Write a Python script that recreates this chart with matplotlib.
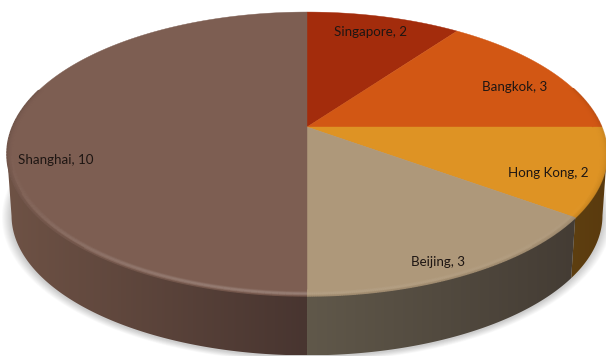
import numpy as np
import matplotlib
matplotlib.use("Agg")
import matplotlib.pyplot as plt
from matplotlib.patches import Polygon
from matplotlib.collections import LineCollection

# Headcount per city, clockwise from twelve o'clock
cities = ["Singapore", "Bangkok", "Hong Kong", "Beijing", "Shanghai"]
values = [2, 3, 2, 3, 10]
colors = ["#A32C0C", "#D25714", "#DE9324", "#AE987A", "#7D5E52"]
label_xy = [(371, 32), (515, 87), (548, 173), (438, 262), (56, 160)]

# Side-wall shading as (left, right) RGB per slice
wall_rgb = [("#5A2008", "#5A2008"), ("#6E3A10", "#6E3A10"), ("#5E3F10", "#5A3A0E"),
            ("#60584A", "#443C34"), ("#6E5245", "#483530")]

# Tilted-disc projection, in pixel units
CX, CY = 307.0, 127.0
RX, RY, TILT = 294.5, 136.8, 0.19
DEPTH, BASE_SCALE = 62.0, 0.985


def project(theta, r=1.0, drop=0.0, scale=1.0):
    """Map a clockwise angle from the top of the disc to figure pixels."""
    u, v = r * np.sin(theta), r * np.cos(theta)
    w = 1 + TILT * v
    return CX + scale * RX * u / w, CY + drop - scale * RY * v / w


def mix(hex_color, factor):
    rgb = np.array(matplotlib.colors.to_rgb(hex_color))
    if factor < 1:
        return tuple(rgb * factor)
    return tuple(rgb + (1 - rgb) * (factor - 1))


fig = plt.figure(figsize=(6.06, 3.56), dpi=100)
ax = fig.add_axes([0, 0, 1, 1])
ax.set_xlim(0, 606)
ax.set_ylim(356, 0)
ax.axis("off")

edges = 2 * np.pi * np.concatenate([[0], np.cumsum(values)]) / np.sum(values)

# Soft shadow under the base of the disc
ring = np.linspace(0, 2 * np.pi, 361)
for k in range(10, 0, -1):
    x, y = project(ring, drop=DEPTH + 1, scale=BASE_SCALE + k * 0.0032)
    ax.add_patch(Polygon(np.c_[x, y], closed=True, fc="#000000", ec="none",
                         alpha=0.018, zorder=1))

# Side wall: one horizontal gradient per slice, clipped to the wall outline.
# The wall stops where the rim turns away from the viewer.
for i in range(len(values)):
    ts = np.linspace(edges[i], edges[i + 1], 300)
    ts = ts[np.cos(ts) < -TILT]
    if len(ts) < 2:
        continue
    xt, yt = project(ts)
    xb, yb = project(ts, drop=DEPTH, scale=BASE_SCALE)
    outline = np.r_[np.c_[xt, yt], np.c_[xb, yb][::-1]]
    patch = Polygon(outline, closed=True, fc="none", ec="none", zorder=2)
    ax.add_patch(patch)
    left = np.array(matplotlib.colors.to_rgb(wall_rgb[i][0]))
    right = np.array(matplotlib.colors.to_rgb(wall_rgb[i][1]))
    frac = np.linspace(0, 1, 256)[None, :, None]
    grad = left[None, None, :] * (1 - frac) + right[None, None, :] * frac
    x_lo, x_hi = outline[:, 0].min(), outline[:, 0].max()
    y_lo, y_hi = outline[:, 1].min(), outline[:, 1].max()
    im = ax.imshow(grad, extent=(x_lo, x_hi, y_hi, y_lo), aspect="auto", zorder=2,
                   interpolation="bilinear")
    im.set_clip_path(patch)
ax.set_xlim(0, 606)
ax.set_ylim(356, 0)

# Top face
for i, col in enumerate(colors):
    ts = np.linspace(edges[i], edges[i + 1], 200)
    x, y = project(ts)
    cx, cy = project(0.0, r=0.0)
    ax.add_patch(Polygon(np.r_[[[cx, cy]], np.c_[x, y]], closed=True,
                         fc=col, ec=col, lw=0.3, zorder=3))

# Rounded rim: thin rings that catch light along the front edge
rings = np.linspace(1.0, 0.972, 10)
for i, col in enumerate(colors):
    ts = np.linspace(edges[i], edges[i + 1], 160)
    ts = ts[np.cos(ts) < 0.3]
    if len(ts) < 2:
        continue
    mids = (ts[:-1] + ts[1:]) / 2
    for r in rings:
        t = (1 - r) / 0.028
        x, y = project(ts, r=r)
        pts = np.c_[x, y]
        segs = np.stack([pts[:-1], pts[1:]], axis=1)
        front = np.clip(-np.cos(mids), 0, 1) ** 2
        strength = 0.20 if i == 4 else 0.07
        seg_colors = []
        for fr in front:
            lift = strength * fr * np.sin(np.pi * t) ** 2
            edge_dark = 0.10 * (1 - t) ** 3
            seg_colors.append(mix(col, 1 + lift) if lift > edge_dark
                              else mix(col, 1 - edge_dark))
        ax.add_collection(LineCollection(segs, colors=seg_colors, linewidths=1.2,
                                         zorder=4))

# Category labels
for city, val, (lx, ly) in zip(cities, values, label_xy):
    ax.text(lx, ly, f"{city}, {val}", ha="center", va="center", fontsize=9.6,
            family="Lato", color="#1E1613", zorder=6)

fig.savefig("out.png", dpi=100)
